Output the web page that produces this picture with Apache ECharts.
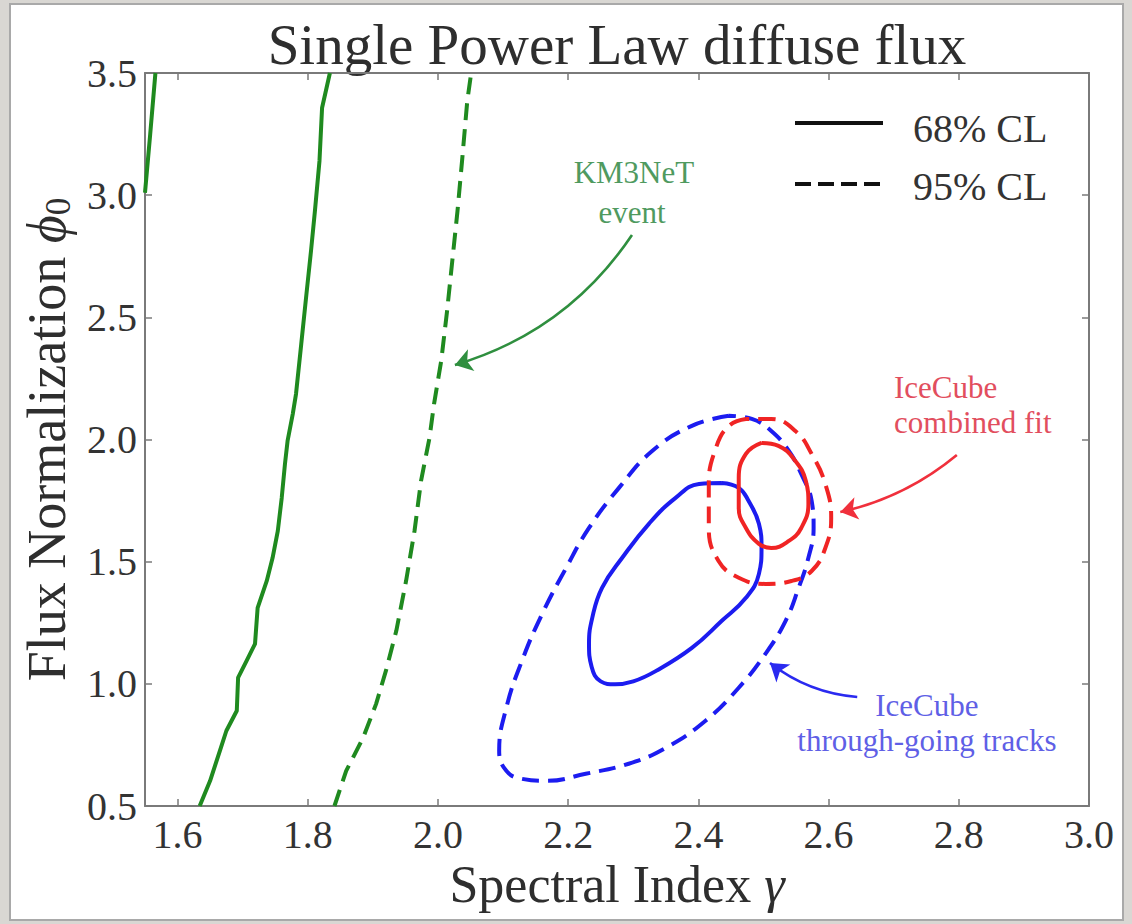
<!DOCTYPE html>
<html><head><meta charset="utf-8">
<script src="https://cdn.jsdelivr.net/npm/echarts@6/dist/echarts.min.js"></script>
<style>
html,body{margin:0;padding:0;background:#d9d7d3;width:1132px;height:924px;overflow:hidden;}
#frame{position:absolute;left:9px;top:3px;width:1115px;height:918px;background:#fff;border:2px solid #a9a9a9;box-sizing:border-box;}
#chart{position:absolute;left:0;top:0;width:1132px;height:924px;}
</style></head><body>
<div id="frame"></div><div id="chart"></div>
<script>
// ---------------- data ----------------
const xTicks = [1.6, 1.8, 2.0, 2.2, 2.4, 2.6, 2.8, 3.0];
const yTicks = [0.5, 1.0, 1.5, 2.0, 2.5, 3.0, 3.5];

// KM3NeT event, 68% CL (two boundaries) and 95% CL
const km3net68Left = [[1.550, 3.01], [1.558, 3.25], [1.566, 3.50]];
const km3net68Right = [
  [1.634, 0.50], [1.650, 0.603], [1.665, 0.726], [1.675, 0.808], [1.691, 0.890],
  [1.693, 1.025], [1.706, 1.094], [1.719, 1.164], [1.723, 1.311], [1.737, 1.421],
  [1.746, 1.516], [1.754, 1.626], [1.760, 1.761], [1.765, 1.900], [1.769, 1.994],
  [1.777, 2.105], [1.782, 2.187], [1.790, 2.391], [1.798, 2.596], [1.805, 2.772],
  [1.811, 2.935], [1.818, 3.140], [1.822, 3.358], [1.834, 3.50]
];
const km3net95 = [
  [1.841, 0.50], [1.859, 0.644], [1.885, 0.779], [1.905, 0.918], [1.920, 1.053],
  [1.936, 1.217], [1.951, 1.421], [1.964, 1.626], [1.974, 1.831], [1.987, 2.007],
  [1.994, 2.146], [2.005, 2.322], [2.014, 2.526], [2.022, 2.731], [2.030, 2.935],
  [2.037, 3.140], [2.045, 3.385], [2.051, 3.50]
];

// IceCube through-going tracks
const tracks68 = [
  [2.436, 1.822], [2.401, 1.818], [2.365, 1.761], [2.324, 1.655], [2.283, 1.516],
  [2.252, 1.393], [2.237, 1.270], [2.232, 1.164], [2.236, 1.070], [2.250, 1.010],
  [2.272, 0.998], [2.300, 1.010], [2.335, 1.053], [2.390, 1.147], [2.436, 1.258], [2.473, 1.352],
  [2.493, 1.450], [2.497, 1.556], [2.493, 1.655], [2.477, 1.749], [2.462, 1.802],
  [2.436, 1.822]
];
const tracks95 = [
  [2.447, 2.097], [2.390, 2.056], [2.329, 1.953], [2.278, 1.802], [2.232, 1.638],
  [2.197, 1.475], [2.160, 1.286], [2.129, 1.094], [2.105, 0.902], [2.094, 0.726],
  [2.105, 0.644], [2.129, 0.611], [2.166, 0.603], [2.227, 0.632], [2.293, 0.673],
  [2.350, 0.738], [2.411, 0.849], [2.462, 0.984], [2.503, 1.123], [2.534, 1.258],
  [2.554, 1.393], [2.569, 1.516], [2.577, 1.638], [2.574, 1.749], [2.558, 1.859],
  [2.539, 1.953], [2.512, 2.035], [2.482, 2.084], [2.447, 2.097]
];

// IceCube combined fit
const combined68 = [
  [2.497, 1.986], [2.473, 1.941], [2.462, 1.843], [2.462, 1.720], [2.473, 1.638],
  [2.493, 1.573], [2.512, 1.556], [2.539, 1.585], [2.558, 1.638], [2.569, 1.736],
  [2.565, 1.831], [2.549, 1.912], [2.523, 1.974], [2.497, 1.986]
];
const combined95 = [
  [2.473, 2.084], [2.447, 2.056], [2.427, 1.966], [2.416, 1.818], [2.416, 1.638],
  [2.431, 1.503], [2.462, 1.434], [2.503, 1.409], [2.543, 1.421], [2.574, 1.462],
  [2.595, 1.556], [2.604, 1.679], [2.595, 1.818], [2.574, 1.941], [2.549, 2.035],
  [2.512, 2.084], [2.473, 2.084]
];

// annotation arrows (data coords: start -> tip)
const arrowGreen = [[2.298, 2.837], [2.026, 2.305]];
const arrowRed = [[2.797, 1.937], [2.618, 1.703]];
const arrowBlue = [[2.644, 0.946], [2.510, 1.085]];

// annotation texts
const annTexts = ['KM3NeT', 'event', 'IceCube', 'combined fit', 'IceCube', 'through-going tracks'];
const annX = [2.301, 2.298, 2.7005, 2.7005, 2.751, 2.751];
const annY = [3.091, 2.931, 2.211, 2.068, 0.913, 0.770];
const annAlign = ['center', 'center', 'left', 'left', 'center', 'center'];
const annColor = ['#4f9a5f', '#4f9a5f', '#e24e5e', '#e24e5e', '#5f5fe6', '#5f5fe6'];

const legendLabels = ['68% CL', '95% CL'];

// ---------------- chart ----------------
const FONT = "'Liberation Serif', 'DejaVu Serif', serif";
const GREEN = '#1f8a1f', BLUE = '#1c1cf0', RED = '#f02424';
const axisLine = {show: true, onZero: false, lineStyle: {color: '#7a7a7a', width: 2}};
const tickStyle = {color: '#7a7a7a', width: 1.5};

const chart = echarts.init(document.getElementById('chart'), null, {renderer: 'svg'});

function lineSeries(data, color, dashed, smooth) {
  return {
    type: 'line', data: data, symbol: 'none', smooth: smooth, silent: true,
    lineStyle: {color: color, width: 4, type: dashed ? [17, 9] : 'solid', cap: 'butt', join: 'round'},
    clip: true, z: 3
  };
}
function arrowSeries(coords, color, curv) {
  return {
    type: 'lines', coordinateSystem: 'cartesian2d', silent: true, z: 4,
    symbol: ['none', 'arrow'], symbolSize: 17,
    lineStyle: {color: color, width: 2.6, curveness: curv, opacity: 1},
    data: [{coords: coords}]
  };
}

const option = {
  backgroundColor: 'transparent',
  animation: false,
  grid: {left: 145, right: 43, top: 73, bottom: 118},
  xAxis: [{
    type: 'value', min: 1.55, max: 3.0, position: 'bottom',
    name: 'Spectral Index {g|γ}', nameLocation: 'middle', nameGap: 43,
    nameTextStyle: {fontFamily: FONT, fontSize: 52, color: '#2e2e2e',
      rich: {g: {fontFamily: FONT, fontSize: 52, fontStyle: 'italic', color: '#2e2e2e'}}},
    axisLine: axisLine,
    axisTick: {show: true, inside: true, length: 7, customValues: xTicks, lineStyle: tickStyle},
    axisLabel: {customValues: xTicks, formatter: v => v.toFixed(1), fontFamily: FONT,
      fontSize: 40, color: '#333', margin: 8},
    splitLine: {show: false}
  }, {
    type: 'value', min: 1.55, max: 3.0, position: 'top',
    axisLine: axisLine,
    axisTick: {show: true, inside: true, length: 7, customValues: xTicks, lineStyle: tickStyle},
    axisLabel: {show: false, customValues: xTicks},
    splitLine: {show: false}
  }],
  yAxis: [{
    type: 'value', min: 0.5, max: 3.5, interval: 0.5, position: 'left',
    name: 'Flux Normalization {p|ϕ}{s|0}', nameLocation: 'middle', nameGap: 62, nameRotate: 90,
    nameTextStyle: {fontFamily: FONT, fontSize: 54, color: '#2e2e2e',
      rich: {
        p: {fontFamily: FONT, fontSize: 54, fontStyle: 'italic', color: '#2e2e2e'},
        s: {fontFamily: FONT, fontSize: 35, color: '#2e2e2e', padding: [24, 0, 0, 0]}
      }},
    axisLine: axisLine,
    axisTick: {show: true, inside: true, length: 7, lineStyle: tickStyle},
    axisLabel: {formatter: v => v.toFixed(1), fontFamily: FONT, fontSize: 40, color: '#333', margin: 8},
    splitLine: {show: false}
  }, {
    type: 'value', min: 0.5, max: 3.5, interval: 0.5, position: 'right',
    axisLine: axisLine,
    axisTick: {show: true, inside: true, length: 7, lineStyle: tickStyle},
    axisLabel: {show: false},
    splitLine: {show: false}
  }],
  series: [
    lineSeries(km3net68Left, GREEN, false, false),
    lineSeries(km3net68Right, GREEN, false, false),
    lineSeries(km3net95, GREEN, true, false),
    lineSeries(tracks95, BLUE, true, 0.45),
    lineSeries(tracks68, BLUE, false, 0.45),
    lineSeries(combined95, RED, true, 0.45),
    lineSeries(combined68, RED, false, 0.45),
    arrowSeries(arrowGreen, '#2f8f3f', 0.18),
    arrowSeries(arrowRed, '#f0303c', 0.12),
    arrowSeries(arrowBlue, '#2a2af0', 0.15)
  ]
};
chart.setOption(option);

const graphics = [
  {type: 'text', x: 617, y: 44, style: {text: 'Single Power Law diffuse flux', font: '57px ' + FONT,
    fill: '#2e2e2e', align: 'center', verticalAlign: 'middle'}},
  {type: 'line', shape: {x1: 795, y1: 123, x2: 883, y2: 123}, style: {stroke: '#111', lineWidth: 4}},
  {type: 'line', shape: {x1: 795, y1: 184, x2: 883, y2: 184}, style: {stroke: '#111', lineWidth: 4, lineDash: [16, 7]}},
  {type: 'text', x: 913, y: 128, style: {text: legendLabels[0], font: '40px ' + FONT, fill: '#333', verticalAlign: 'middle'}},
  {type: 'text', x: 913, y: 186, style: {text: legendLabels[1], font: '40px ' + FONT, fill: '#333', verticalAlign: 'middle'}}
];
annTexts.forEach((t, i) => {
  const p = chart.convertToPixel({gridIndex: 0}, [annX[i], annY[i]]);
  graphics.push({type: 'text', x: p[0], y: p[1], z: 10,
    style: {text: t, font: '31px ' + FONT, fill: annColor[i], align: annAlign[i], verticalAlign: 'middle'}});
});
chart.setOption({graphic: graphics});
</script>
</body></html>
